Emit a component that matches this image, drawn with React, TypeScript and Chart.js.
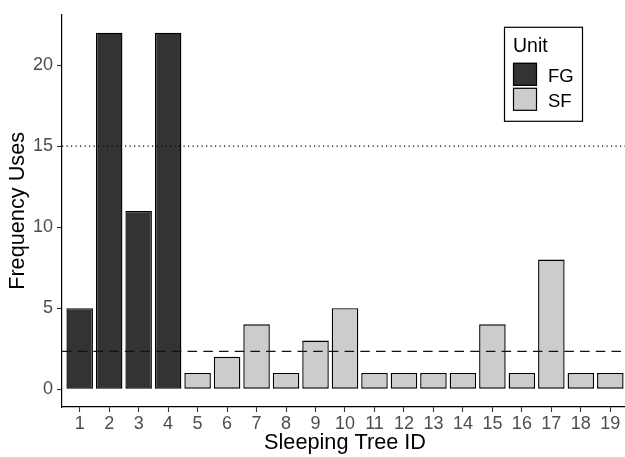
import { useEffect, useRef } from "react";
import { Chart, registerables } from "chart.js";

Chart.register(...registerables);

const treeIds = [1, 2, 3, 4, 5, 6, 7, 8, 9, 10, 11, 12, 13, 14, 15, 16, 17, 18, 19];
const fgIds = [1, 2, 3, 4];
const fgUses = [5, 22, 11, 22];
const sfIds = [5, 6, 7, 8, 9, 10, 11, 12, 13, 14, 15, 16, 17, 18, 19];
const sfUses = [1, 2, 4, 1, 3, 5, 1, 1, 1, 1, 4, 1, 8, 1, 1];
const yTickValues = [0, 5, 10, 15, 20];
const unitLabels = ["FG", "SF"];
const dottedLineValue = 15;
const dashedLineValue = 2.33;

const FONT = '"Liberation Sans", Arial, Helvetica, sans-serif';
const FG_COLOR = "#333333";
const SF_COLOR = "#cccccc";

const overlayPlugin = {
  id: "overlay",
  afterDatasetsDraw(chart: any) {
    const { ctx, chartArea, scales } = chart;
    const y = scales.y;
    ctx.save();
    ctx.strokeStyle = "#000";
    ctx.lineWidth = 1.2;
    ctx.setLineDash([1.2, 3.3]);
    let py = y.getPixelForValue(dottedLineValue);
    ctx.beginPath();
    ctx.moveTo(chartArea.left, py);
    ctx.lineTo(chartArea.right, py);
    ctx.stroke();
    ctx.lineWidth = 1.4;
    ctx.strokeStyle = "#111";
    ctx.setLineDash([9.5, 6.2]);
    py = y.getPixelForValue(dashedLineValue);
    ctx.beginPath();
    ctx.moveTo(chartArea.left, py);
    ctx.lineTo(chartArea.right, py);
    ctx.stroke();
    ctx.restore();
  },
  afterDraw(chart: any) {
    const { ctx, chartArea } = chart;
    const bx = chartArea.left + 442;
    const by = chartArea.top + 12;
    ctx.save();
    ctx.fillStyle = "#fff";
    ctx.fillRect(bx, by, 78, 94);
    ctx.strokeStyle = "#000";
    ctx.lineWidth = 1.2;
    ctx.strokeRect(bx + 0.5, by + 0.5, 78, 94);
    ctx.fillStyle = "#000";
    ctx.font = `19.5px ${FONT}`;
    ctx.textBaseline = "alphabetic";
    ctx.textAlign = "left";
    ctx.fillText("Unit", bx + 9, by + 25);
    const colors = [FG_COLOR, SF_COLOR];
    unitLabels.forEach((lab, i) => {
      const sy = by + 36 + i * 25;
      ctx.fillStyle = colors[i];
      ctx.fillRect(bx + 9, sy, 24, 23);
      ctx.strokeStyle = "#000";
      ctx.lineWidth = 1.2;
      ctx.strokeRect(bx + 9.5, sy + 0.5, 23, 22);
      ctx.fillStyle = "#000";
      ctx.font = `18.5px ${FONT}`;
      ctx.fillText(lab, bx + 44, sy + 19);
    });
    ctx.restore();
  },
};

export default function App() {
  const canvasRef = useRef<HTMLCanvasElement | null>(null);

  useEffect(() => {
    if (!canvasRef.current) return;
    const common = {
      borderColor: "#000",
      borderWidth: 1.4,
      borderSkipped: false,
      grouped: false,
      barPercentage: 0.9,
      categoryPercentage: 1,
    };
    const chart = new Chart(canvasRef.current, {
      type: "bar",
      data: {
        datasets: [
          {
            label: unitLabels[0],
            data: fgIds.map((id, i) => ({ x: id, y: fgUses[i] })),
            backgroundColor: FG_COLOR,
            ...common,
          } as any,
          {
            label: unitLabels[1],
            data: sfIds.map((id, i) => ({ x: id, y: sfUses[i] })),
            backgroundColor: SF_COLOR,
            ...common,
          } as any,
        ],
      },
      options: {
        animation: false,
        responsive: true,
        maintainAspectRatio: false,
        layout: { padding: { top: 12, right: 0, bottom: 0, left: 0 } },
        plugins: {
          legend: { display: false },
          tooltip: { enabled: false },
        },
        scales: {
          x: {
            type: "linear",
            min: 0.4,
            max: 19.6,
            offset: false,
            afterBuildTicks: (axis: any) => {
              axis.ticks = treeIds.map((v) => ({ value: v }));
            },
            afterFit: (axis: any) => {
              axis.height = 50;
            },
            grid: {
              display: true,
              offset: false,
              drawOnChartArea: false,
              drawTicks: true,
              tickLength: 5,
              tickColor: "#333",
              tickWidth: 1.1,
            },
            border: { display: true, color: "#000", width: 1.2 },
            ticks: {
              autoSkip: false,
              maxRotation: 0,
              color: "#4d4d4d",
              padding: 1,
              font: { family: FONT, size: 18 },
              callback: (v: any) => String(v),
            },
            title: {
              display: true,
              text: "Sleeping Tree ID",
              color: "#000",
              font: { family: FONT, size: 21.7 },
              padding: { top: 0, bottom: 1 },
            },
          },
          y: {
            type: "linear",
            min: -1.1,
            max: 23.1,
            afterBuildTicks: (axis: any) => {
              axis.ticks = yTickValues.map((v) => ({ value: v }));
            },
            afterFit: (axis: any) => {
              axis.width = 62;
            },
            grid: {
              display: true,
              drawOnChartArea: false,
              drawTicks: true,
              tickLength: 5,
              tickColor: "#333",
              tickWidth: 1.1,
            },
            border: { display: true, color: "#000", width: 1.2 },
            ticks: {
              color: "#4d4d4d",
              padding: 4,
              font: { family: FONT, size: 18 },
            },
            title: {
              display: true,
              text: "Frequency Uses",
              color: "#000",
              font: { family: FONT, size: 21.7 },
              padding: { top: 5, bottom: 0 },
            },
          },
        },
      } as any,
      plugins: [overlayPlugin],
    });
    return () => chart.destroy();
  }, []);

  return (
    <div
      style={{
        position: "fixed",
        left: 0,
        top: 0,
        width: 625,
        height: 457,
        overflow: "hidden",
        background: "#fff",
      }}
    >
      <div style={{ position: "relative", width: 628, height: 457 }}>
        <canvas ref={canvasRef} />
      </div>
    </div>
  );
}
